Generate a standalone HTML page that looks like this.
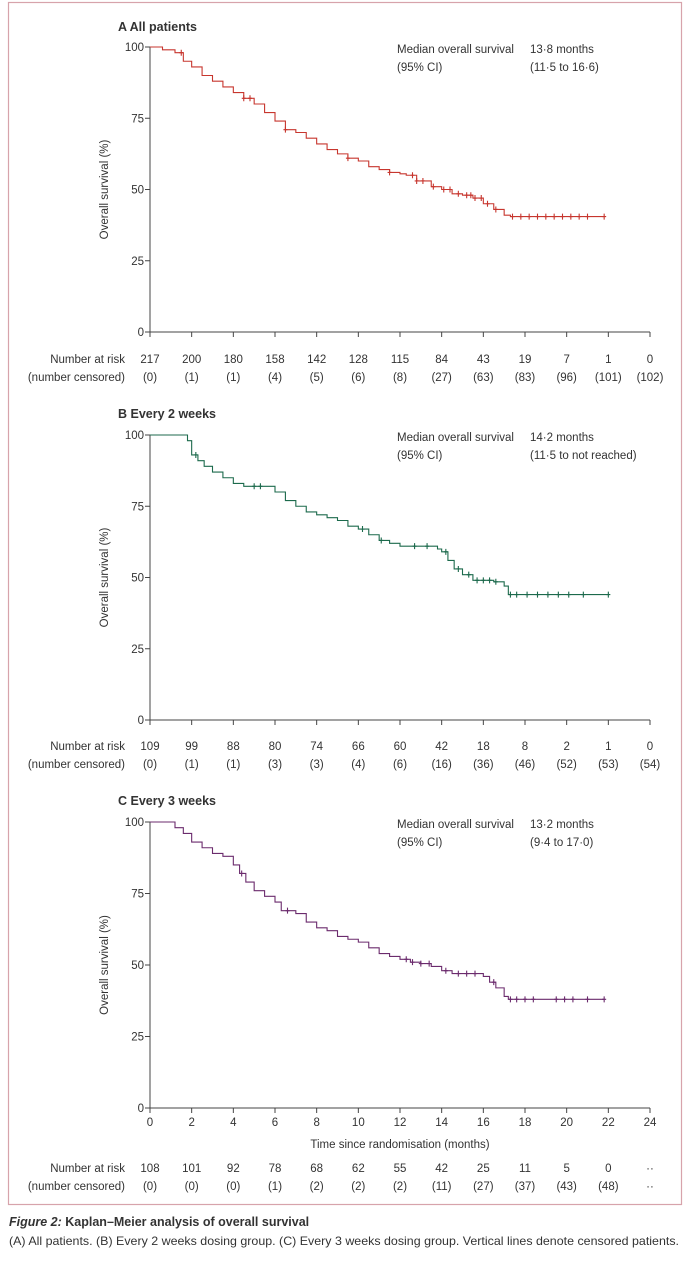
<!DOCTYPE html>
<html><head><meta charset="utf-8"><style>
body{margin:0;background:#fff;width:690px;height:1260px;overflow:hidden;font-family:"Liberation Sans",sans-serif}
svg text{font-family:"Liberation Sans",sans-serif;fill:#333}
</style></head><body>
<svg id="chart" width="690" height="1260" xmlns="http://www.w3.org/2000/svg">
<rect x="8.5" y="2.5" width="673" height="1202" fill="none" stroke="#d7a3ab" stroke-width="1.2"/>
<text x="9" y="1226" font-size="12.5" font-weight="bold" fill="#222"><tspan font-style="italic">Figure 2:</tspan> Kaplan–Meier analysis of overall survival</text>
<text x="9" y="1245" font-size="11.6" textLength="670" lengthAdjust="spacingAndGlyphs">(A) All patients. (B) Every 2 weeks dosing group. (C) Every 3 weeks dosing group. Vertical lines denote censored patients.</text>
</svg>
<script>
const tickMonths=[0,2,4,6,8,10,12,14,16,18,20,22,24];
const yTicks=[0,25,50,75,100];
const timesA=[0,0.6,1.2,1.6,2,2.5,3,3.5,4,4.5,5,5.5,6,6.5,7,7.5,8,8.5,9,9.5,10,10.5,11,11.5,12,12.3,12.8,13.5,14,14.5,15,15.5,16,16.5,17,17.3];
const survA=[100,99,98,95,93,90,88,86,84,82,80,77,74,71,70,68,66,64,62.5,61,60,58,57,56,55.5,55,53,51,50,48.5,48,47,45,43,41,40.5];
const censA=[1.5,4.5,4.8,6.5,9.5,11.5,12.6,12.8,13.1,13.6,14.1,14.4,14.8,15.2,15.4,15.6,15.9,16.2,16.6,17.4,17.8,18.2,18.6,19,19.4,19.8,20.2,20.6,21,21.8];
const endA=21.8;
const timesB=[0,1.8,2,2.3,2.6,3,3.5,4,4.5,5.5,6,6.5,7,7.5,8,8.5,9,9.5,10,10.5,11,11.5,12,13.8,14,14.3,14.6,15,15.5,16.5,17,17.2];
const survB=[100,98,93,91,89,87,85,83,82,82,80,77,75,73,72,71,70,68,67,65,63,62,61,60,59,56,53,51,49,48.5,47,44];
const censB=[2.2,5,5.3,10.2,11.1,12.7,13.3,14.2,14.8,15.3,15.7,16,16.3,16.6,17.3,17.6,18.1,18.6,19.1,19.6,20.1,20.8,22];
const endB=22;
const timesC=[0,1,1.2,1.6,2,2.5,3,3.5,4,4.3,4.6,5,5.5,6,6.3,7,7.5,8,8.5,9,9.5,10,10.5,11,11.5,12,12.5,13,13.5,14,14.5,15.5,16,16.3,16.6,17,17.2];
const survC=[100,100,98,96,93,91,89,88,85,82,79,76,74,72,69,68,65,63,62,60,59,58,56,54,53,52,51,50.5,49.5,48,47,47,46,44,42,39,38];
const censC=[4.4,6.6,12.3,12.6,13,13.4,14.2,14.8,15.2,15.6,16.5,17.3,17.6,18,18.4,19.5,19.9,20.3,21,21.8];
const endC=21.8;
const riskA=["217","200","180","158","142","128","115","84","43","19","7","1","0"];
const cenA=["(0)","(1)","(1)","(4)","(5)","(6)","(8)","(27)","(63)","(83)","(96)","(101)","(102)"];
const riskB=["109","99","88","80","74","66","60","42","18","8","2","1","0"];
const cenB=["(0)","(1)","(1)","(3)","(3)","(4)","(6)","(16)","(36)","(46)","(52)","(53)","(54)"];
const riskC=["108","101","92","78","68","62","55","42","25","11","5","0","··"];
const cenC=["(0)","(0)","(0)","(1)","(2)","(2)","(2)","(11)","(27)","(37)","(43)","(48)","··"];

const svg=document.getElementById('chart');
const NS='http://www.w3.org/2000/svg';
function mk(tag,attrs,parent){const e=document.createElementNS(NS,tag);for(const k in attrs)e.setAttribute(k,attrs[k]);(parent||svg).appendChild(e);return e;}
function txt(s,attrs,parent){const e=mk('text',attrs,parent);e.textContent=s;return e;}
const X0=150,X1=650;
function xs(t){return X0+(t/24)*(X1-X0);}

function panel(cfg){
  const g=mk('g',{});
  
  
  const ys=v=>cfg.y0-(v/100)*(cfg.y0-cfg.y100);
  const t=txt('',{x:118,y:cfg.titleY,'font-size':12.5,'font-weight':'bold',fill:'#222'},g);
  t.textContent=cfg.title;
  
  
  const ax=mk('path',{d:`M${X0} ${cfg.y100} V${cfg.y0} H${X1}`,stroke:'#444',fill:'none','stroke-width':1},g);
  
  
  yTicks.forEach(v=>{
    mk('line',{x1:X0-5,x2:X0,y1:ys(v),y2:ys(v),stroke:'#444'},g);
    const l=txt(String(v),{x:X0-6,y:ys(v)+4,'font-size':11.5,'text-anchor':'end'},g);
    
    
  });
  tickMonths.forEach((m,i)=>{
    mk('line',{x1:xs(m),x2:xs(m),y1:cfg.y0,y2:cfg.y0+5,stroke:'#444'},g);
    if(cfg.xLabels){const l=txt(String(m),{x:xs(m),y:cfg.y0+18,'font-size':11.5,'text-anchor':'middle'},g);
      
      }
    const r=txt(cfg.risk[i],{x:xs(m),y:cfg.riskY,'font-size':11.5,'text-anchor':'middle'},g);
    
    
    const c=txt(cfg.cens[i],{x:xs(m),y:cfg.riskY+18,'font-size':11.5,'text-anchor':'middle'},g);
    
    
  });
  const h1=txt('Number at risk',{x:125,y:cfg.riskY,'font-size':11.5,'text-anchor':'end'},g);
  
  
  const h2=txt('(number censored)',{x:125,y:cfg.riskY+18,'font-size':11.5,'text-anchor':'end'},g);
  
  
  const yl=txt('Overall survival (%)',{x:0,y:0,'font-size':11.5,'text-anchor':'middle',transform:`translate(108 ${(cfg.y0+cfg.y100)/2}) rotate(-90)`},g);
  
  
  const m1=txt('Median overall survival',{x:397,y:cfg.y100+6,'font-size':11.5},g);
  
  
  txt('(95% CI)',{x:397,y:cfg.y100+24,'font-size':11.5},g);
  const m2=txt(cfg.median,{x:530,y:cfg.y100+6,'font-size':11.5},g);
  
  
  txt(cfg.ci,{x:530,y:cfg.y100+24,'font-size':11.5},g);
  // step curve
  let d=`M${xs(cfg.times[0])} ${ys(cfg.surv[0])}`;
  for(let i=1;i<cfg.times.length;i++){d+=` H${xs(cfg.times[i])} V${ys(cfg.surv[i])}`;}
  d+=` H${xs(cfg.end)}`;
  const p=mk('path',{d,stroke:cfg.color,fill:'none','stroke-width':1.1},g);
  
  
  const survAt=t=>{let s=cfg.surv[0];for(let i=0;i<cfg.times.length;i++){if(cfg.times[i]<=t)s=cfg.surv[i];}return s;};
  cfg.censor.forEach(t=>{
    const y=ys(survAt(t));
    const c=mk('path',{d:`M${xs(t)} ${y-3} V${y+3} M${xs(t)-2} ${y} H${xs(t)+2}`,stroke:cfg.color,'stroke-width':1.1},g);
    
    
  });
}
panel({name:'panel-a-all-patients',title:'A  All patients',titleY:31,y100:47,y0:332,riskY:363,risk:riskA,cens:cenA,times:timesA,surv:survA,censor:censA,end:endA,color:'#c7362e',median:'13·8 months',ci:'(11·5 to 16·6)'});
panel({name:'panel-b-every-2-weeks',title:'B  Every 2 weeks',titleY:418,y100:435,y0:720,riskY:750,risk:riskB,cens:cenB,times:timesB,surv:survB,censor:censB,end:endB,color:'#1c6a4c',median:'14·2 months',ci:'(11·5 to not reached)'});
panel({name:'panel-c-every-3-weeks',title:'C  Every 3 weeks',titleY:805,y100:822,y0:1108,riskY:1172,risk:riskC,cens:cenC,times:timesC,surv:survC,censor:censC,end:endC,color:'#6b2b6d',median:'13·2 months',ci:'(9·4 to 17·0)',xLabels:true});
const xt=txt('Time since randomisation (months)',{x:400,y:1148,'font-size':11.5,'text-anchor':'middle'});


</script>
</body></html>
